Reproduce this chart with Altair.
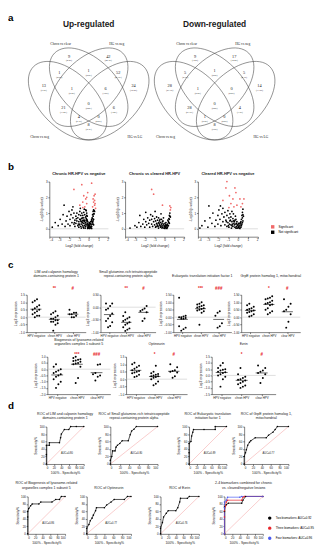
import altair as alt
import pandas as pd

FONT = "Liberation Sans"
SERIF = "Liberation Serif"
TXT = "#1a1a1a"
RED = "#e8262c"

# ---------------- panel a : Venn diagrams ----------------
venn_sets = ["Chron vs clear", "HG vs neg", "Chron vs neg", "HG vs LG"]
venn_set_x = [0.30, 0.70, 0.15, 0.83]
venn_set_y = [0.89, 0.89, 0.20, 0.20]
ellipse_cx = [0.35, 0.50, 0.50, 0.65]
ellipse_cy = [0.47, 0.57, 0.57, 0.47]
ellipse_angle = [45, 45, 315, 315]
venn_region_x = [0.36, 0.64, 0.29, 0.50, 0.71, 0.18, 0.82, 0.38, 0.62, 0.50, 0.32, 0.68, 0.43, 0.57, 0.50]
venn_region_y = [0.79, 0.79, 0.67, 0.68, 0.67, 0.57, 0.57, 0.55, 0.55, 0.44, 0.41, 0.41, 0.34, 0.34, 0.28]
up_counts = [9, 42, 1, 1, 52, 13, 24, 1, 6, 0, 21, 6, 4, 0, 8]
down_counts = [9, 17, 5, 1, 5, 28, 14, 1, 0, 0, 28, 4, 1, 0, 8]

# ---------------- panel b : volcano plots ----------------
volcano_titles = ["Chronic HR-HPV vs negative", "Chronic vs cleared HR-HPV", "Cleared HR-HPV vs negative"]
v1_black = [(-3.7,0.10),(-3.4,0.40),(-3.1,0.20),(-2.9,0.60),(-2.7,0.30),(-2.6,0.90),(-2.5,1.50),(-2.4,0.15),
            (-2.3,0.50),(-2.2,0.80),(-2.1,0.30),(-2.0,1.10),(-1.9,0.60),(-1.9,0.20),(-1.8,0.90),(-1.7,0.40),
            (-1.7,1.20),(-1.6,0.70),(-1.6,1.40),(-1.5,0.30),(-1.5,1.00),(-1.4,0.55),(-1.4,0.15),(-1.3,0.80),
            (-1.3,0.35),(-1.2,1.00),(-1.2,0.50),(-1.1,0.70),(-1.1,0.20),(-1.0,0.90),(-1.0,0.45),(-1.0,0.10),
            (-0.9,1.10),(-0.9,0.60),(-0.9,0.30),(-0.85,1.30),(-0.8,0.85),(-0.8,0.50),(-0.8,0.15),(-0.7,1.00),
            (-0.7,0.65),(-0.7,0.30),(-0.6,0.85),(-0.6,0.50),(-0.6,0.20),(-0.5,1.05),(-0.5,0.70),(-0.5,0.35),
            (-0.45,1.25),(-0.4,0.90),(-0.4,0.55),(-0.4,0.20),(-0.3,1.20),(-0.3,0.75),(-0.3,0.40),(-0.25,1.15),
            (-0.2,1.00),(-0.2,0.60),(-0.2,0.25),(-0.15,0.80),(-0.1,0.45),(-0.1,0.10),(0.0,0.30),(0.0,0.05),
            (0.1,0.20),(0.1,0.05),(0.2,0.35),(0.2,0.10),(0.3,0.50),(0.3,0.15),(0.35,0.70),(0.4,0.90),
            (0.45,1.10),(0.5,1.20),(0.5,0.60),(0.55,0.95),(0.6,1.10),(0.25,0.25),(0.4,0.40),(-0.95,0.25),
            (-0.75,0.05),(-0.65,0.40),(-0.55,0.10),(-0.35,0.05),(-0.25,0.50),(-0.15,0.35),(-0.05,0.20),
            (0.05,0.40),(0.15,0.30),(0.25,0.05),(0.35,0.30),(0.45,0.50),(0.5,0.25),(-0.45,0.45),(0.05,0.15),
            (-0.3,0.15),(0.15,0.12),(-0.35,0.30),(-0.25,0.65),(-0.2,0.85),(-0.15,0.55),(-0.1,0.25),(-0.05,0.10),
            (0.0,0.15),(0.05,0.25),(0.1,0.35),(0.2,0.45),(0.3,0.60),(0.35,0.45),(0.4,0.65),(0.45,0.80),
            (0.5,0.95),(0.55,1.15),(0.45,0.30),(0.3,0.02),(0.1,0.02),(-0.1,0.02),(-0.5,0.05),(-0.55,0.55),
            (-0.65,0.70),(-0.75,0.45),(-0.85,0.60),(-1.05,0.30),(-1.25,0.65),(-1.45,0.40)]
v1_red = [(-1.5,2.5),(-0.9,1.5),(-0.7,2.8),(-0.6,1.7),(-0.5,2.1),(-0.4,1.4),(-0.3,1.9),(-0.2,1.6),(-0.1,2.3),
          (0.3,2.9),(0.4,1.4),(0.45,1.9),(0.5,1.7),(0.55,2.1),(0.6,1.5),(0.65,2.2),(0.7,1.3),(0.6,1.8),
          (-0.2,2.0),(-0.6,1.35),(0.65,1.6)]
v2_black = [(-3.5,0.05),(-3.0,0.20),(-2.8,0.10),(-2.6,0.40),(-2.4,0.15),(-2.2,0.30),(-2.1,0.60),(-2.0,0.10),
            (-1.9,0.45),(-1.8,0.25),(-1.7,0.70),(-1.6,0.35),(-1.5,0.10),(-1.5,0.55),(-1.4,0.90),(-1.3,0.30),
            (-1.3,0.60),(-1.2,0.15),(-1.2,0.80),(-1.1,0.45),(-1.0,0.25),(-1.0,0.65),(-0.9,0.10),(-0.9,0.50),
            (-0.8,0.35),(-0.8,0.75),(-0.7,0.20),(-0.7,0.55),(-0.6,0.05),(-0.6,0.40),(-0.6,0.70),(-0.5,0.25),
            (-0.5,0.50),(-0.4,0.10),(-0.4,0.40),(-0.3,0.60),(-0.3,0.25),(-0.2,0.45),(-0.2,0.10),(-0.1,0.30),
            (-0.1,0.70),(0.0,0.15),(0.0,0.05),(0.1,0.10),(0.1,0.25),(0.2,0.05),(0.2,0.20),(0.3,0.30),
            (0.3,0.10),(0.4,0.45),(0.4,0.20),(0.45,0.65),(0.5,0.85),(0.5,0.35),(0.55,1.00),(0.6,0.75),
            (-2.5,0.85),(-1.9,1.05),(-0.95,1.10),(-0.35,0.95),(-0.65,0.15),(-0.25,0.05),(0.15,0.40),
            (0.35,0.55),(-0.45,0.60),(-0.15,0.20),(0.05,0.35),(-0.35,0.15),(-0.25,0.35),(-0.15,0.50),
            (-0.05,0.05),(0.05,0.20),(0.15,0.15),(0.25,0.25),(0.35,0.20),(0.45,0.40),(0.5,0.60),(0.55,0.80),
            (0.25,0.02),(0.05,0.02),(-0.45,0.20),(-0.55,0.35),(-0.75,0.30),(-0.85,0.15)]
v2_red = [(-1.3,2.5),(-1.1,2.2),(-0.2,1.5),(0.55,1.45),(0.6,1.2),(0.65,1.35)]
v3_black = [(-3.6,0.20),(-3.3,0.50),(-3.0,0.10),(-2.8,0.70),(-2.6,0.35),(-2.5,1.00),(-2.3,0.15),(-2.2,0.55),
            (-2.0,0.85),(-2.0,0.30),(-1.9,1.20),(-1.8,0.60),(-1.7,0.20),(-1.6,0.95),(-1.5,0.45),(-1.5,1.30),
            (-1.4,0.75),(-1.3,0.25),(-1.3,1.05),(-1.2,0.55),(-1.1,0.85),(-1.1,0.15),(-1.0,1.15),(-1.0,0.40),
            (-0.9,0.70),(-0.9,0.10),(-0.8,0.95),(-0.8,0.50),(-0.7,0.25),(-0.7,0.75),(-0.6,1.10),(-0.6,0.45),
            (-0.5,0.15),(-0.5,0.65),(-0.45,0.95),(-0.4,0.35),(-0.3,0.55),(-0.3,0.10),(-0.25,0.80),(-0.2,0.30),
            (-0.1,0.45),(-0.1,0.05),(0.0,0.20),(0.05,0.10),(0.1,0.30),(0.15,0.05),(0.2,0.20),(0.25,0.40),
            (0.3,0.10),(0.35,0.60),(0.4,0.85),(0.4,0.30),(0.45,1.05),(0.5,1.25),(0.5,0.50),(0.55,0.80),
            (-2.9,1.45),(-3.8,0.05),(-1.75,1.45),(-0.65,0.05),(-0.35,0.25),(-0.15,0.15),(0.05,0.35),
            (0.3,0.30),(-0.55,0.30),(-0.85,0.30),(-1.15,0.45),(-0.35,0.45),(-0.2,0.60),(-0.15,0.35),
            (-0.05,0.25),(0.0,0.05),(0.1,0.15),(0.2,0.35),(0.3,0.45),(0.35,0.20),(0.45,0.70),(0.5,0.90),
            (0.45,0.40),(0.2,0.02),(-0.2,0.05),(-0.45,0.50),(-0.6,0.20),(-0.75,0.55),(-0.95,0.20)]
v3_red = [(-1.5,1.8),(-1.2,2.6),(-1.1,3.0),(-0.85,2.1),(-0.7,1.6),(-0.5,1.9),(-0.4,1.4),(-0.2,2.3),(-0.1,1.5),
          (0.2,1.9),(0.3,1.4),(0.45,1.6),(0.6,1.9),(-0.9,1.35),(-0.3,2.6)]

# ---------------- panel c : scatter dot plots ----------------
groups = ["HPV negative", "chron HPV", "clear HPV"]
lim_vals = [[1.2, 1.1, 1.0, 0.8, 0.7, 0.6, 0.5, 0.5, 0.4, 0.3, 0.2, 0.1, 0.1, 0.0],
            [0.4, 0.3, 0.2, 0.1, 0.0, -0.1, -0.1, -0.2, -0.2, -0.3, -0.3, -0.4, -0.5, -0.9],
            [0.5, 0.3, 0.3, 0.2, 0.2, 0.1, 0.0, 0.0]]
sgta_vals = [[0.15, 0.15, 0.05, -0.05, -0.1, -0.25, -0.35, -0.45, -0.55, -0.6, -0.75, -0.8],
             [-0.2, -0.35, -0.4, -0.45, -0.5, -0.55, -0.6, -0.65, -0.7, -0.8, -0.85, -0.9, -0.95],
             [0.05, -0.05, -0.1, -0.15, -0.2, -0.45, -0.55]]
eif1_vals = [[1.3, 0.1, 0.05, 0.0, 0.0, -0.05, -0.1, -0.1, -0.6, -0.7, -0.8, -0.9],
             [1.0, 0.9, 0.85, 0.8, 0.75, 0.7, 0.65, 0.6, 0.55, 0.5, 0.45, 0.4, 0.3, -0.5],
             [0.4, 0.3, 0.1, -0.4, -0.6, -0.7]]
grpe_vals = [[0.9, 0.8, 0.7, 0.6, 0.55, 0.5, 0.45, 0.4, 0.35, 0.3, 0.2, 0.1, 0.05],
             [1.4, 1.3, 1.25, 1.2, 1.1, 1.0, 0.95, 0.9, 0.85, 0.8, 0.6, 0.5, 0.4, 0.3, 0.2],
             [1.2, 0.9, 0.7, 0.5, 0.4, 0.2, -0.3, -0.7]]
bloc_vals = [[0.4, 0.2, 0.0, -0.1, -0.2, -0.3, -0.4, -0.5, -0.6, -0.8, -1.0, -1.2, -1.5],
             [1.0, 0.9, 0.8, 0.75, 0.7, 0.65, 0.6, 0.5, 0.45, 0.4, 0.2, -0.7, -1.1],
             [0.4, 0.35, -0.3, -0.4, -0.5, -0.6, -0.9]]
optn_vals = [[1.1, 1.0, 0.9, 0.8, 0.7, 0.6, 0.55, 0.5, 0.45, 0.4, 0.3, 0.2, 0.15],
             [0.9, 0.5, 0.4, 0.35, 0.3, 0.25, 0.2, 0.2, 0.15, 0.1, 0.0, -0.15, -0.3, -0.4],
             [1.0, 0.8, 0.6, 0.55, 0.5, 0.45, 0.2, 0.1]]
ezr_vals = [[1.0, 0.8, 0.6, 0.5, 0.45, 0.4, 0.3, 0.25, 0.2, 0.1, 0.0, -0.1, -0.3, -0.9],
            [0.6, 0.1, -0.1, -0.2, -0.3, -0.35, -0.4, -0.5, -0.6, -0.7, -0.8, -0.9, -1.0],
            [0.8, 0.6, 0.4, 0.3, 0.2, 0.1, -0.2, -0.6]]

# ---------------- panel d : ROC curves ----------------
roc_lim = [(0,0),(0,25),(0,50),(8,50),(8,57),(35,57),(38,70),(40,80),(48,92),(60,92),(65,100),(80,100),(100,100)]
roc_sgta = [(0,0),(0,10),(3,20),(5,35),(10,35),(12,45),(15,50),(20,55),(25,62),(38,62),(42,78),(45,88),(50,93),(55,100),(100,100)]
roc_eif1 = [(0,0),(0,30),(0,55),(5,60),(7,75),(10,85),(12,92),(40,92),(70,92),(70,100),(100,100)]
roc_grpe = [(0,0),(0,20),(3,30),(5,38),(8,50),(12,58),(15,62),(25,70),(50,70),(55,77),(65,85),(70,92),(75,100),(100,100)]
roc_bloc = [(0,0),(0,45),(0,60),(3,68),(8,75),(12,80),(30,80),(35,85),(65,85),(75,92),(85,92),(90,100),(100,100)]
roc_optn = [(0,0),(0,15),(5,25),(8,35),(12,42),(15,50),(20,62),(22,70),(40,70),(45,77),(55,85),(62,92),(85,92),(92,100),(100,100)]
roc_ezr = [(0,0),(0,15),(5,30),(8,45),(15,55),(20,62),(40,62),(45,70),(50,85),(52,95),(70,95),(75,100),(100,100)]
roc_two = [(0,0),(0,60),(0,72),(5,78),(10,82),(45,82),(48,90),(55,100),(100,100)]
roc_three = [(0,0),(0,45),(0,62),(3,75),(5,85),(8,90),(45,90),(48,98),(52,100),(100,100)]
roc_four = [(0,0),(0,70),(0,85),(5,90),(8,98),(40,98),(45,100),(100,100)]
combo_names = ["Two biomarkers: AUC=0.92", "Three biomarkers: AUC=0.95", "Four biomarkers: AUC=0.96"]

ELLIPSE = ("M 1 0 C 1 0.3156 0.5523 0.5714 0 0.5714 C -0.5523 0.5714 -1 0.3156 -1 0 "
           "C -1 -0.3156 -0.5523 -0.5714 0 -0.5714 C 0.5523 -0.5714 1 -0.3156 1 0 Z")

ONE = pd.DataFrame({"k": [0]})


def spacer(w, h, label=None, ly=0, size=10):
    if label:
        return alt.Chart(ONE).mark_text(
            align="left", baseline="alphabetic", font=FONT, fontSize=size, fontWeight="bold", color="black"
        ).encode(x=alt.value(0), y=alt.value(ly), text=alt.value(label)).properties(width=w, height=h)
    return alt.Chart(ONE).mark_point(size=0, opacity=0).encode(
        x=alt.value(0), y=alt.value(0)).properties(width=w, height=h)


def venn_panel(title, counts, width, xdom):
    sx = alt.Scale(domain=xdom, nice=False, zero=False)
    sy = alt.Scale(domain=[0.162, 1.125], nice=False, zero=False)
    X = lambda f: alt.X(f"{f}:Q", scale=sx, axis=None)
    Y = lambda f: alt.Y(f"{f}:Q", scale=sy, axis=None)
    ell = pd.DataFrame({"x": ellipse_cx, "y": ellipse_cy, "a": ellipse_angle})
    reg = pd.DataFrame({"x": venn_region_x, "y": venn_region_y, "n": counts})
    lab = pd.DataFrame({"x": venn_set_x, "y": venn_set_y, "t": venn_sets})
    ttl = pd.DataFrame({"x": [0.5], "y": [1.035], "t": [title]})
    e = alt.Chart(ell).mark_point(shape=ELLIPSE, filled=False, size=9604, color="#444444",
                                  strokeWidth=0.55, opacity=1).encode(
        x=X("x"), y=Y("y"), angle=alt.Angle("a:Q", scale=None))
    n = alt.Chart(reg).mark_text(font=SERIF, fontSize=4.4, color=TXT, dy=-1).encode(
        x=X("x"), y=Y("y"), text="n:Q")
    p = alt.Chart(reg).transform_joinaggregate(tot="sum(n)").transform_calculate(
        p="'(' + format(datum.n / datum.tot * 100, '.1f') + '%)'"
    ).mark_text(font=SERIF, fontSize=2.2, color=TXT, dy=3).encode(x=X("x"), y=Y("y"), text="p:N")
    s = alt.Chart(lab).mark_text(font=SERIF, fontSize=3.6, color=TXT).encode(x=X("x"), y=Y("y"), text="t:N")
    t = alt.Chart(ttl).mark_text(font=FONT, fontSize=8.5, fontWeight="bold", color=TXT).encode(
        x=X("x"), y=Y("y"), text="t:N")
    return alt.layer(e, n, p, s, t).properties(width=width, height=132)


def volcano(title, black, red, width, legend=False):
    rows = [{"fc": a, "p": b, "s": "Not significant"} for a, b in black] + \
           [{"fc": a, "p": b, "s": "Significant"} for a, b in red]
    df = pd.DataFrame(rows)
    X = lambda f: alt.X(f"{f}:Q", scale=alt.Scale(domain=[-4, 2], nice=False),
                        axis=alt.Axis(values=[-4, -3, -2, -1, 0, 1, 2], title="Log2 (fold change)"))
    Y = lambda f: alt.Y(f"{f}:Q", scale=alt.Scale(domain=[-0.5, 3], nice=False),
                        axis=alt.Axis(values=[0, 1, 2, 3], title="-Log10 (p-value)"))
    if legend:
        leg = alt.Legend(title=None, orient="none", legendX=74, legendY=44, symbolType="square",
                         symbolSize=12, labelFontSize=3.2, labelFont=FONT, rowPadding=1.5, symbolStrokeWidth=0)
    else:
        leg = None
    col = alt.Color("s:N", scale=alt.Scale(domain=["Significant", "Not significant"], range=["#f06a6a", "black"]),
                    legend=leg)
    zero = alt.Chart(pd.DataFrame({"z": [0]})).mark_rule(color="#c8c8c8", strokeWidth=0.6).encode(y=Y("z"))
    pts = alt.Chart(df).mark_circle(size=3.2, opacity=1).encode(x=X("fc"), y=Y("p"), color=col,
                                                                 order=alt.Order("s:N", sort="ascending"))
    return alt.layer(zero, pts).properties(
        width=width, height=56,
        title=alt.TitleParams(volcano_titles[title], fontSize=4, fontWeight="bold", offset=5))


def strip(title, vals, ydom, yticks, yfmt, stars, width, star_y=-6, toff=8):
    g, v = [], []
    for gi, lst in enumerate(vals):
        g += [gi] * len(lst)
        v += lst
    df = pd.DataFrame({"g": g, "v": v})
    sx = alt.Scale(domain=[-0.5, 2.7], nice=False, zero=False)
    sy = alt.Scale(domain=ydom, nice=False, zero=False)
    X = lambda f: alt.X(f"{f}:Q", scale=sx, axis=alt.Axis(
        values=[0, 1, 2], title=None, labelOverlap=False,
        labelExpr="['HPV negative','chron HPV','clear HPV'][datum.value]"))
    Y = lambda f: alt.Y(f"{f}:Q", scale=sy, axis=alt.Axis(values=yticks, format=yfmt, title="Log2 expression"))
    zero = alt.Chart(pd.DataFrame({"z": [0]})).mark_rule(color="#c8c8c8", strokeWidth=0.6).encode(y=Y("z"))
    pts = alt.Chart(df).transform_window(
        rn="row_number()", groupby=["g"], sort=[alt.SortField("v")]
    ).transform_calculate(xj="datum.g + ((datum.rn % 4) - 1.5) * 0.12").mark_circle(
        size=4, color="black", opacity=1).encode(x=X("xj"), y=Y("v"))
    mean = alt.Chart(df).transform_aggregate(m="mean(v)", groupby=["g"]).transform_calculate(
        x1="datum.g - 0.3", x2="datum.g + 0.3").mark_rule(color="black", strokeWidth=0.6).encode(
        x=X("x1"), x2="x2:Q", y=Y("m"))
    st = alt.Chart(pd.DataFrame({"g": [1, 2], "t": stars})).mark_text(
        color=RED, fontSize=4.5, fontWeight="bold", font=FONT).encode(x=X("g"), y=alt.value(star_y), text="t:N")
    return alt.layer(zero, pts, mean, st).properties(
        width=width, height=38, title=alt.TitleParams(title, fontSize=3.6, offset=toff, lineHeight=4.2))


def roc(title, series, colors, auc, width, legend=False):
    rows = []
    for name, pts in series:
        for i, (a, b) in enumerate(pts):
            rows.append({"fpr": a, "tpr": b, "s": name, "i": i})
    df = pd.DataFrame(rows)
    X = lambda f: alt.X(f"{f}:Q", scale=alt.Scale(domain=[0, 100], nice=False),
                        axis=alt.Axis(values=[0, 20, 40, 60, 80, 100], title="100% - Specificity%"))
    Y = lambda f: alt.Y(f"{f}:Q", scale=alt.Scale(domain=[0, 100], nice=False),
                        axis=alt.Axis(values=[0, 20, 40, 60, 80, 100], title="Sensitivity%"))
    if legend:
        leg = alt.Legend(title=None, orient="none", legendX=44, legendY=20, symbolType="circle",
                         symbolSize=4, labelFontSize=3, labelFont=FONT, rowPadding=2.2)
    else:
        leg = None
    col = alt.Color("s:N", scale=alt.Scale(domain=[s[0] for s in series], range=colors), legend=leg)
    diag = alt.Chart(pd.DataFrame({"a": [0], "b": [100]})).mark_rule(color="#f08080", strokeWidth=0.4).encode(
        x=X("a"), y=Y("a"), x2="b:Q", y2="b:Q")
    line = alt.Chart(df).mark_line(strokeWidth=0.7).encode(x=X("fpr"), y=Y("tpr"), color=col, order="i:Q")
    dots = alt.Chart(df).mark_circle(size=2.5, opacity=1).encode(x=X("fpr"), y=Y("tpr"), color=col)
    layers = [diag, line, dots]
    if auc:
        layers.append(alt.Chart(pd.DataFrame({"x": [55], "y": [30], "t": [auc]})).mark_text(
            fontSize=2.6, font=FONT, color=TXT).encode(x=X("x"), y=Y("y"), text="t:N"))
    return alt.layer(*layers).properties(
        width=width, height=38, title=alt.TitleParams(title, fontSize=3.6, offset=6, lineHeight=4.2))


def H(*c):
    return alt.hconcat(*c, spacing=0, bounds="flush").resolve_scale(color="independent").resolve_legend(
        color="independent")


row_a = H(spacer(12, 132, "a", 9), venn_panel("Up-regulated", up_counts, 128, [0.009, 0.907]),
          venn_panel("Down-regulated", down_counts, 135, [0.009, 0.956]))

row_b = H(spacer(42, 1), volcano(0, v1_black, v1_red, 60), spacer(17, 1),
          volcano(1, v2_black, v2_red, 60), spacer(14, 1), volcano(2, v3_black, v3_red, 61, legend=True))

t3 = [-1.0, -0.5, 0.0, 0.5, 1.0, 1.5]
row_c1 = H(spacer(19, 1),
           strip(["LIM and calponin homology", "domains-containing protein 1"], lim_vals, [-1, 1.5], t3, ".1f", ["**", "#"], 60),
           spacer(15, 1),
           strip(["Small glutamine-rich tetratricopeptide", "repeat-containing protein alpha"], sgta_vals, [-1, 0.5],
                 [-1.0, -0.5, 0.0, 0.5], ".2f", ["**", "#"], 56),
           spacer(18, 1),
           strip(["Eukaryotic translation initiation factor 1"], eif1_vals, [-1, 1.5], t3, ".2f", ["***", "###"], 59),
           spacer(10, 1),
           strip(["GrpE protein homolog 1, mitochondrial"], grpe_vals, [-1, 1.5], t3, ".2f", ["*", "#"], 60))

row_c2 = H(spacer(40, 1),
           strip(["Biogenesis of lysosome-related", "organelles complex 1 subunit 5"], bloc_vals, [-2, 1],
                 [-2.0, -1.5, -1.0, -0.5, 0.0, 0.5, 1.0], ".1f", ["***", "###"], 64, star_y=-2, toff=6),
           spacer(16, 1),
           strip(["Optineurin"], optn_vals, [-1, 1.5], t3, ".1f", ["*", "#"], 62, star_y=-2, toff=6),
           spacer(25, 1),
           strip(["Ezrin"], ezr_vals, [-1.5, 1.5], [-1.5, -1.0, -0.5, 0.0, 0.5, 1.0, 1.5], ".1f", ["*", "#"], 65,
                 star_y=-2, toff=6))

K = ["black"]
row_d1 = H(spacer(39, 1),
           roc(["ROC of LIM and calponin homology", "domains-containing protein 1"], [("c", roc_lim)], K, "AUC=0.80", 38),
           spacer(27, 1),
           roc(["ROC of Small glutamine-rich tetratricopeptide", "repeat-containing protein alpha"], [("c", roc_sgta)], K,
               "AUC=0.80", 48),
           spacer(32, 1),
           roc(["ROC of Eukaryotic translation", "initiation factor 1"], [("c", roc_eif1)], K, "AUC=0.89", 38),
           spacer(18, 1),
           roc(["ROC of GrpE protein homolog 1,", "mitochondrial"], [("c", roc_grpe)], K, "AUC=0.77", 45))

row_d2 = H(spacer(20, 1),
           roc(["ROC of Biogenesis of lysosome-related", "organelles complex 1 subunit 5"], [("c", roc_bloc)], K,
               "AUC=0.86", 38),
           spacer(22, 1),
           roc(["ROC of Optineurin"], [("c", roc_optn)], K, "AUC=0.77", 45),
           spacer(30, 1),
           roc(["ROC of Ezrin"], [("c", roc_ezr)], K, "AUC=0.76", 39),
           spacer(26, 1),
           roc(["2-4 biomarkers combined for chronic", "vs. cleared/negative lesions"],
               [(combo_names[0], roc_two), (combo_names[1], roc_three), (combo_names[2], roc_four)],
               ["black", RED, "#4a5cf0"], "", 39, legend=True))

chart = alt.vconcat(
    row_a, spacer(1, 29, "b", 28), row_b, spacer(1, 22, "c", 21), row_c1, row_c2,
    spacer(1, 10, "d", 9), row_d1, spacer(1, 6), row_d2, spacing=0
).resolve_scale(color="independent").resolve_legend(color="independent")

chart = chart.properties(padding=0).configure_view(strokeOpacity=0).configure_axis(
    labelFont=FONT, titleFont=FONT, labelFontSize=3, titleFontSize=3.4, labelColor=TXT, titleColor=TXT,
    domainColor="black", domainWidth=0.5, tickColor="black", tickWidth=0.5, tickSize=1.5,
    labelPadding=0.8, titlePadding=1.5, grid=False, titleFontWeight="normal"
).configure_title(font=FONT, color=TXT, fontWeight="normal", anchor="middle")

chart.save("out.html", embed_options={"renderer": "svg", "actions": False})
